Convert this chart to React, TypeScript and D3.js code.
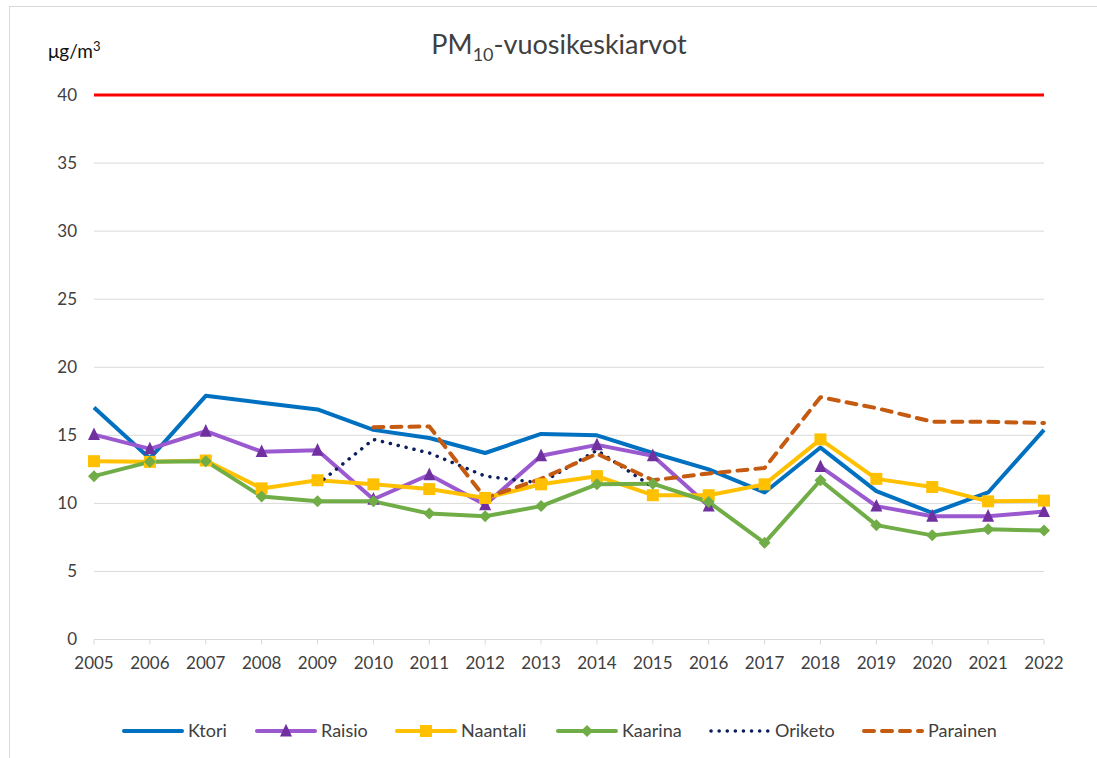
import React from "react";
import * as d3 from "d3";

const years = [2005,2006,2007,2008,2009,2010,2011,2012,2013,2014,2015,2016,2017,2018,2019,2020,2021,2022];
const ktori: (number|null)[] = [17.05,13.3,17.9,17.4,16.9,15.4,14.8,13.7,15.1,15.0,13.7,12.5,10.8,14.1,10.9,9.3,10.8,15.4];
const raisio: (number|null)[] = [15.05,14.0,15.3,13.8,13.9,10.3,12.1,9.9,13.5,14.3,13.5,9.8,null,12.7,9.8,9.05,9.05,9.4];
const naantali: (number|null)[] = [13.1,13.05,13.15,11.1,11.7,11.4,11.05,10.4,11.4,12.0,10.6,10.6,11.4,14.7,11.8,11.2,10.15,10.2];
const kaarina: (number|null)[] = [12.0,13.05,13.1,10.5,10.15,10.15,9.25,9.05,9.8,11.4,11.45,10.1,7.1,11.7,8.4,7.65,8.1,8.0];
const oriketo: (number|null)[] = [null,null,null,null,11.4,14.7,13.7,12.0,11.5,13.9,11.2,null,null,null,null,null,null,null];
const parainen: (number|null)[] = [null,null,null,null,null,15.6,15.65,10.4,11.8,13.65,11.7,12.2,12.6,17.8,17.0,16.0,16.0,15.9];
const yTicks = [0,5,10,15,20,25,30,35,40];
const limitValue = 40;

type Series = { name: string; values: (number|null)[]; color: string; width: number; dash?: string; cap?: string; marker?: "triangle"|"square"|"diamond"; markerColor?: string };

const series: Series[] = [
  { name: "Ktori", values: ktori, color: "#0070C0", width: 4 },
  { name: "Raisio", values: raisio, color: "#9B59D0", width: 4, marker: "triangle", markerColor: "#7030A0" },
  { name: "Naantali", values: naantali, color: "#FFC000", width: 4, marker: "square", markerColor: "#FFC000" },
  { name: "Kaarina", values: kaarina, color: "#70AD47", width: 4, marker: "diamond", markerColor: "#70AD47" },
  { name: "Oriketo", values: oriketo, color: "#0C1F5C", width: 3.5, dash: "0.1 8", cap: "round" },
  { name: "Parainen", values: parainen, color: "#C55A11", width: 4, dash: "10 8", cap: "round" },
];

const legendX = [124, 257, 397, 558, 711, 864];

const font = "Lato, 'Open Sans', sans-serif";
const textColor = "#404040";

function Marker({ type, x, y, color, size }: { type: string; x: number; y: number; color: string; size: number }) {
  if (type === "triangle") {
    const h = size * 1.0;
    return <path d={`M${x},${y - h * 0.6}L${x + size / 2},${y + h * 0.45}L${x - size / 2},${y + h * 0.45}Z`} fill={color} />;
  }
  if (type === "square") {
    return <rect x={x - size / 2} y={y - size / 2} width={size} height={size} fill={color} />;
  }
  return <path d={`M${x},${y - size / 2}L${x + size / 2},${y}L${x},${y + size / 2}L${x - size / 2},${y}Z`} fill={color} />;
}

export default function App() {
  const W = 1097, H = 758;
  const x = d3.scaleLinear().domain([2005, 2022]).range([94, 1044]);
  const y = d3.scaleLinear().domain([0, 40]).range([639.5, 95]);

  const line = d3.line<number|null>()
    .defined(d => d !== null)
    .x((_, i) => x(years[i]))
    .y(d => y(d as number));

  return (
    <div style={{ position: "absolute", left: 0, top: 0 }}>
      <svg width={W} height={H} style={{ display: "block" }}>
        <rect x={0} y={0} width={W} height={H} fill="#fff" />
        <rect x={9.5} y={6.5} width={W + 20} height={H + 20} fill="none" stroke="#D9D9D9" strokeWidth={1} />
        {yTicks.filter(t => t > 0 && t < 40).map(t => (
          <line key={t} x1={94} x2={1044} y1={y(t)} y2={y(t)} stroke="#D9D9D9" strokeWidth={1} />
        ))}
        <line x1={94} x2={1044} y1={y(0)} y2={y(0)} stroke="#D9D9D9" strokeWidth={1} />
        {years.map((yr) => (
          <line key={yr} x1={x(yr)} x2={x(yr)} y1={y(0)} y2={y(0) + 5} stroke="#D9D9D9" strokeWidth={1} />
        ))}
        {yTicks.map(t => (
          <text key={t} x={77} y={y(t)} dy="0.35em" textAnchor="end" fontFamily={font} fontSize={17} fill={textColor}>{t}</text>
        ))}
        {years.map(yr => (
          <text key={yr} x={x(yr)} y={669} textAnchor="middle" fontFamily={font} fontSize={17} fill={textColor}>{yr}</text>
        ))}
        <line x1={94} x2={1044} y1={y(limitValue)} y2={y(limitValue)} stroke="#FF0000" strokeWidth={3} />
        {series.map(s => (
          <path key={s.name} d={line(s.values) || ""} fill="none" stroke={s.color} strokeWidth={s.width}
            strokeDasharray={s.dash} strokeLinecap={(s.cap as any) || "butt"} strokeLinejoin="round" />
        ))}
        {series.filter(s => s.marker).map(s => (
          <g key={s.name + "m"}>
            {s.values.map((v, i) => v === null ? null : (
              <Marker key={i} type={s.marker!} x={x(years[i])} y={y(v)} color={s.markerColor!} size={12} />
            ))}
          </g>
        ))}
        <text x={559} y={54} textAnchor="middle" fontFamily={font} fontSize={27} fill={textColor}>
          <tspan>PM</tspan><tspan fontSize={18} dy={7}>10</tspan><tspan dy={-7}>-vuosikeskiarvot</tspan>
        </text>
        <text x={48} y={58} fontFamily={font} fontSize={19} fill="#111">
          <tspan>μg/m</tspan><tspan fontSize={13} dy={-7}>3</tspan>
        </text>
        {series.map((s, i) => {
          const lx = legendX[i];
          const ly = 731;
          return (
            <g key={s.name + "l"}>
              <line x1={lx} x2={lx + 58} y1={ly} y2={ly} stroke={s.color} strokeWidth={s.width}
                strokeDasharray={s.dash} strokeLinecap={(s.cap as any) || "round"} />
              {s.marker && <Marker type={s.marker} x={lx + 29} y={ly} color={s.markerColor!} size={12} />}
              <text x={lx + 64} y={ly} dy="0.35em" fontFamily={font} fontSize={18} fill={textColor}>{s.name}</text>
            </g>
          );
        })}
      </svg>
    </div>
  );
}
